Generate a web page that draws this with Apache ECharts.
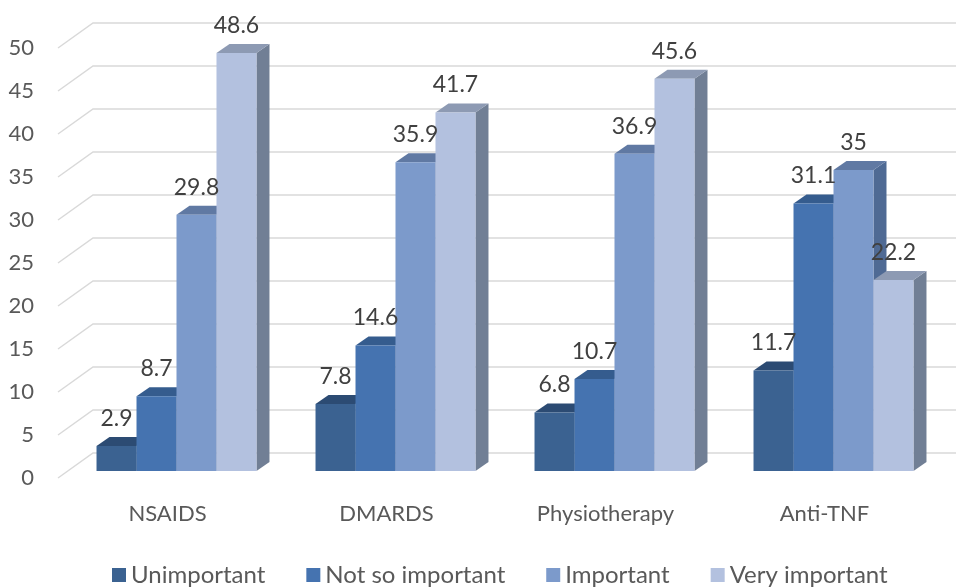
<!DOCTYPE html>
<html>
<head>
<meta charset="utf-8">
<script src="https://cdn.jsdelivr.net/npm/echarts@6/dist/echarts.min.js"></script>
<style>
html,body{margin:0;padding:0;background:#fff;}
#chart{width:956px;height:588px;}
</style>
</head>
<body>
<div id="chart"></div>
<script>
// ---- data ----
const categories = ['NSAIDS', 'DMARDS', 'Physiotherapy', 'Anti-TNF'];
const seriesNames = ['Unimportant', 'Not so important', 'Important', 'Very important'];
const unimportant = [2.9, 7.8, 6.8, 11.7];
const notSoImportant = [8.7, 14.6, 10.7, 31.1];
const important = [29.8, 35.9, 36.9, 35];
const veryImportant = [48.6, 41.7, 45.6, 22.2];
const yTicks = [0, 5, 10, 15, 20, 25, 30, 35, 40, 45, 50];

// ---- style ----
const FONT = 'Lato';
const frontColors = ['#3B6291', '#4573B0', '#7C9ACB', '#B3C1DF'];
const topColors   = ['#2C4B73', '#355C8E', '#6079A3', '#8D9AB3'];
const sideColors  = ['#263F60', '#2E4C75', '#4F6A94', '#717F95'];
const WALL_DX = 35, WALL_DY = -25;   // back wall offset
const BAR_OX = 9, BAR_OY = -7;       // bar front plane offset
const DEPTH_DX = 13, DEPTH_DY = -9;  // bar depth
const BAR_FRAC = 0.1826;             // bar width as fraction of band

const allValues = [unimportant, notSoImportant, important, veryImportant];

function barRenderer(si) {
  return function (params, api) {
    const cat = api.value(0), val = api.value(1);
    const p0 = api.coord([cat, 0]);
    const p1 = api.coord([cat, val]);
    const band = api.size([1, 0])[0];
    const w = band * BAR_FRAC;
    const x0 = p0[0] - 2 * w + si * w + BAR_OX;
    const x1 = x0 + w;
    const yb = p0[1] + BAR_OY;
    const yt = p1[1] + BAR_OY;
    return {
      type: 'group',
      children: [
        { type: 'polygon', z2: si * 10,
          shape: { points: [[x1, yt], [x1 + DEPTH_DX, yt + DEPTH_DY], [x1 + DEPTH_DX, yb + DEPTH_DY], [x1, yb]] },
          style: { fill: sideColors[si] } },
        { type: 'polygon', z2: si * 10 + 1,
          shape: { points: [[x0, yt], [x1, yt], [x1 + DEPTH_DX, yt + DEPTH_DY], [x0 + DEPTH_DX, yt + DEPTH_DY]] },
          style: { fill: topColors[si] } },
        { type: 'rect', z2: si * 10 + 2,
          shape: { x: x0, y: yt, width: w, height: yb - yt },
          style: { fill: frontColors[si] } },
        { type: 'text', z2: 100,
          style: { text: String(val), x: (x0 + x1) / 2, y: yt - 27.5,
                   align: 'center', verticalAlign: 'middle',
                   fill: '#404040', font: '23px ' + FONT } }
      ]
    };
  };
}

const series = [
  {
    type: 'custom', name: '_wall', z: 1, clip: false, silent: true,
    data: yTicks.map(v => [0, v]),
    encode: { x: 0, y: 1 },
    renderItem: function (params, api) {
      const v = api.value(1);
      const p = api.coord([0, v]);
      const x = params.coordSys.x;
      const y = p[1];
      return {
        type: 'polyline',
        shape: { points: [[x, y], [x + WALL_DX, y + WALL_DY], [api.getWidth(), y + WALL_DY]] },
        style: { stroke: '#D9D9D9', lineWidth: 1.5, fill: null }
      };
    }
  }
];
seriesNames.forEach((name, si) => {
  series.push({
    type: 'custom', name: name, z: 2, clip: false,
    itemStyle: { color: frontColors[si] },
    data: allValues[si].map((v, ci) => [ci, v]),
    encode: { x: 0, y: 1 },
    renderItem: barRenderer(si)
  });
});

const chart = echarts.init(document.getElementById('chart'));
chart.setOption({
  animation: false,
  backgroundColor: '#fff',
  grid: { left: 58, right: 22, top: 48, bottom: 110 },
  xAxis: {
    type: 'category', data: categories,
    axisLine: { show: false }, axisTick: { show: false },
    axisLabel: { color: '#595959', fontFamily: FONT, fontSize: 22, margin: 25 }
  },
  yAxis: {
    type: 'value', min: 0, max: 50, interval: 5,
    axisLine: { show: false }, axisTick: { show: false },
    splitLine: { show: false },
    axisLabel: { color: '#595959', fontFamily: FONT, fontSize: 22, margin: 24 }
  },
  legend: {
    data: seriesNames, left: 112, top: 563, padding: 0,
    icon: 'rect', itemWidth: 14, itemHeight: 14, itemGap: 41,
    textStyle: { color: '#595959', fontFamily: FONT, fontSize: 24 }
  },
  series: series
});
</script>
</body>
</html>
